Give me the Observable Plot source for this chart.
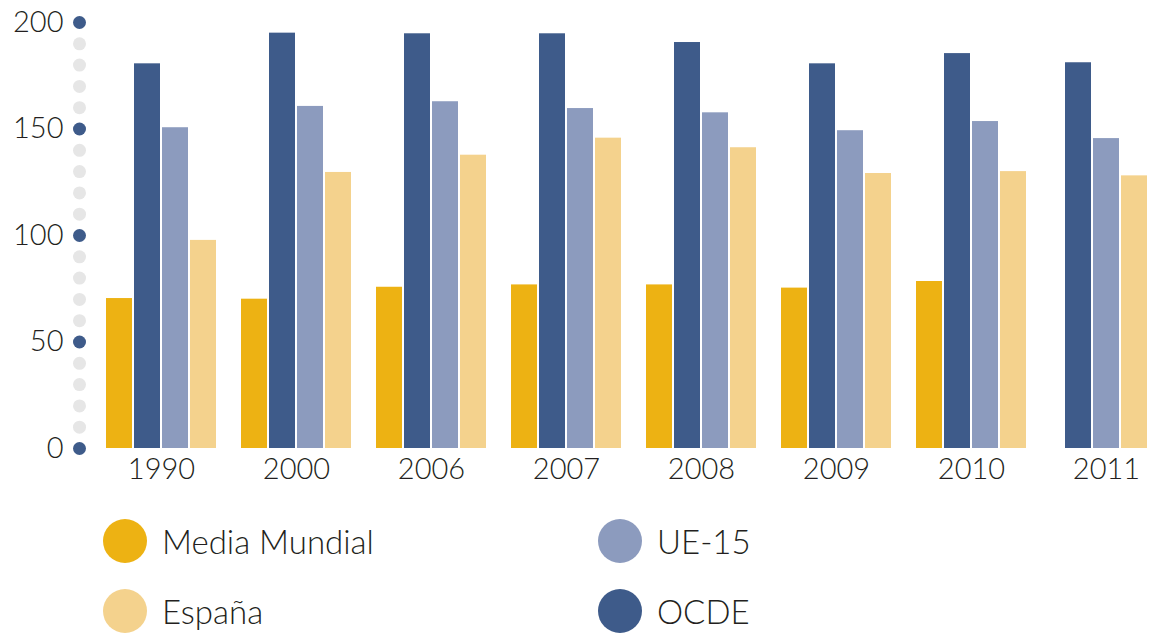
<!DOCTYPE html>
<html>
<head>
<meta charset="utf-8">
<script src="https://cdn.jsdelivr.net/npm/d3@7"></script>
<script src="https://cdn.jsdelivr.net/npm/@observablehq/plot@0.6"></script>
<style>
  html, body { margin: 0; padding: 0; background: #fff; }
  #chart { width: 1154px; }
  .legend { display: grid; grid-template-columns: 495px auto; grid-auto-rows: 70px; margin: 11px 0 0 103px; font-family: Lato, "Open Sans", sans-serif; font-weight: 300; font-size: 33px; color: #231f20; }
  .legend .item { display: flex; align-items: center; }
  .legend .sw { width: 44px; height: 44px; border-radius: 50%; margin-right: 15px; flex: none; }
</style>
</head>
<body>
<div id="chart"></div>
<script>
const years = ["1990", "2000", "2006", "2007", "2008", "2009", "2010", "2011"];
const seriesNames = ["Media Mundial", "OCDE", "UE-15", "España"];
const mediaMundial = [70.4, 70.1, 75.7, 76.8, 76.8, 75.3, 78.4, null];
const ocde = [180.6, 195.0, 194.7, 194.7, 190.6, 180.6, 185.4, 181.1];
const ue15 = [150.6, 160.6, 162.8, 159.6, 157.6, 149.2, 153.5, 145.5];
const espana = [97.7, 129.6, 137.7, 145.7, 141.2, 129.1, 130.0, 128.0];
const yTicks = [0, 50, 100, 150, 200];
const yMinorTicks = d3.range(0, 201, 10);

const colors = ["#EDB213", "#3E5B8A", "#8C9BBE", "#F4D28D"];
const seriesValues = [mediaMundial, ocde, ue15, espana];

// Build table: within each year, present series are centered in 4 slots
const data = [];
years.forEach((yr, i) => {
  const present = seriesNames.map((s, k) => ({series: s, value: seriesValues[k][i]}))
    .filter(d => d.value != null);
  const offset = (seriesNames.length - present.length) / 2;
  present.forEach((d, j) => data.push({year: yr, series: d.series, value: d.value, slot: j + offset}));
});

const plot = Plot.plot({
  width: 1154,
  height: 495,
  marginTop: 22,
  marginBottom: 47,
  marginLeft: 104,
  marginRight: 0,
  style: {fontFamily: "Lato, 'Open Sans', sans-serif", fontWeight: 300, fontSize: "29px", color: "#231f20", background: "#fff"},
  fx: {domain: years, range: [104, 1163], paddingInner: 0.172, paddingOuter: 0, label: null, tickSize: 0, tickPadding: 10, axis: "bottom"},
  x: {domain: [0, 4], axis: null},
  y: {domain: [0, 200], ticks: yTicks, tickSize: 0, tickPadding: 42, label: null, grid: false},
  color: {domain: seriesNames, range: colors},
  marks: [
    Plot.dot(yMinorTicks.filter(v => v % 50 !== 0), {y: d => d, fx: () => years[0], frameAnchor: "left", dx: -26, r: 6.5, fill: "#e6e6e6"}),
    Plot.dot(yTicks, {y: d => d, fx: () => years[0], frameAnchor: "left", dx: -26, r: 6.5, fill: "#3E5B8A"}),
    Plot.rectY(data, {fx: "year", x1: "slot", x2: d => d.slot + 1, y: "value", fill: "series", insetLeft: 1, insetRight: 1})
  ]
});
document.getElementById("chart").appendChild(plot);

const legendOrder = ["Media Mundial", "UE-15", "España", "OCDE"];
const legend = document.createElement("div");
legend.className = "legend";
legendOrder.forEach(name => {
  const item = document.createElement("div");
  item.className = "item";
  const sw = document.createElement("span");
  sw.className = "sw";
  sw.style.background = colors[seriesNames.indexOf(name)];
  const label = document.createElement("span");
  label.textContent = name;
  item.appendChild(sw);
  item.appendChild(label);
  legend.appendChild(item);
});
document.getElementById("chart").appendChild(legend);
</script>
</body>
</html>
